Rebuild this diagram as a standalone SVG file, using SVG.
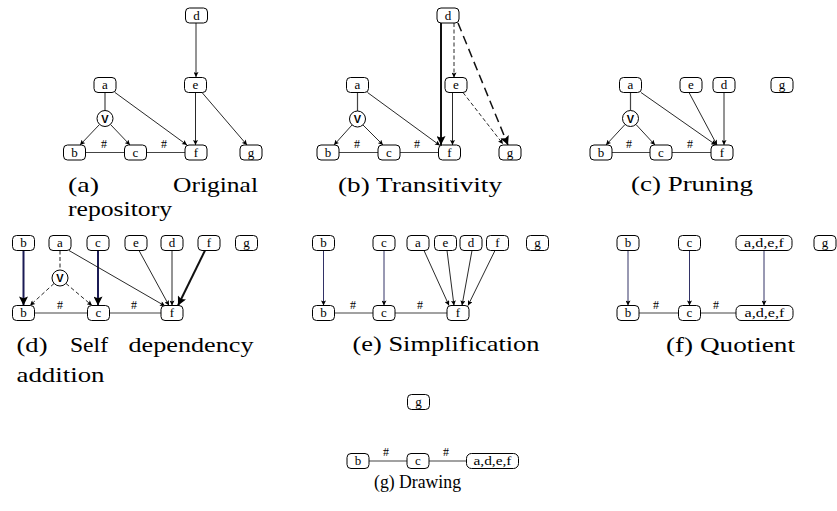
<svg xmlns="http://www.w3.org/2000/svg" width="837" height="511" viewBox="0 0 837 511">
  <defs>
    <style>
      .n rect { fill: #fff; stroke: #000; stroke-width: 1; }
      .n circle { fill: #fff; stroke: #000; stroke-width: 1; }
      .n text { font-family: "Liberation Serif", serif; font-size: 13px; text-anchor: middle; fill: #000; }
      .n text.or { font-family: "Liberation Sans", sans-serif; font-size: 11px; font-weight: bold; }
      .ln { stroke: #444; stroke-width: 1.2; fill: none; }
      .ar { stroke: #111; stroke-width: 0.9; fill: none; marker-end: url(#ah); }
      .dash { stroke-dasharray: 4 2.5; }
      .ldash { stroke-dasharray: 9 5; }
      .thick { stroke-width: 2; marker-end: url(#big); }
      .navy { stroke: #1b1b55; marker-end: url(#ahn); }
      .navy.thick { marker-end: url(#bign); }
      .hash { font-family: "Liberation Serif", serif; font-size: 12px; text-anchor: middle; fill: #000; }
      .cap { font-family: "Liberation Serif", serif; font-size: 22px; fill: #000; }
    </style>
    <marker id="ah" viewBox="0 0 10 10" refX="10" refY="5" markerWidth="6" markerHeight="5" markerUnits="userSpaceOnUse" orient="auto">
      <path d="M0,0 L10,5 L0,10 L2,5 z" fill="#000"/>
    </marker>
    <marker id="ahn" viewBox="0 0 10 10" refX="10" refY="5" markerWidth="6" markerHeight="5" markerUnits="userSpaceOnUse" orient="auto">
      <path d="M0,0 L10,5 L0,10 L2,5 z" fill="#000"/>
    </marker>
    <marker id="big" viewBox="0 0 10 10" refX="10" refY="5" markerWidth="11" markerHeight="9" markerUnits="userSpaceOnUse" orient="auto">
      <path d="M0,0 L10,5 L0,10 L2,5 z" fill="#000"/>
    </marker>
    <marker id="bign" viewBox="0 0 10 10" refX="10" refY="5" markerWidth="11" markerHeight="9" markerUnits="userSpaceOnUse" orient="auto">
      <path d="M0,0 L10,5 L0,10 L2,5 z" fill="#000"/>
    </marker>
  </defs>
  <rect width="837" height="511" fill="#fff"/>

  <!-- connectors -->
  <g id="connectors">
    <!-- (a) original repository -->
    <path class="ar" d="M196,23 L196,77"/>
    <path class="ln" d="M105,92.5 L105,110.5"/>
    <path class="ar" d="M99.5,124.5 L80,145"/>
    <path class="ar" d="M110.5,124.5 L130,145"/>
    <path class="ar" d="M115,92.5 L187,145"/>
    <path class="ar" d="M195.5,92.5 L195.5,145"/>
    <path class="ar" d="M202,92.5 L247,145"/>
    <path class="ln" d="M85.5,152.5 H124.5"/>
    <path class="ln" d="M146.5,152.5 H185"/>
    <text class="hash" x="104" y="148">#</text>
    <text class="hash" x="164" y="148">#</text>

    <!-- (b) transitivity -->
    <path class="ar thick" d="M441,23 L441,145"/>
    <path class="ar dash" d="M454,23 L454,77.5"/>
    <path class="ar thick ldash" d="M458,23 L508,145" style="stroke-width:1.5"/>
    <path class="ar" d="M452.5,92.5 L452.5,145"/>
    <path class="ar dash" d="M463,92.5 L503,144"/>
    <path class="ar" d="M367.5,92.5 L440,145.5"/>
    <path class="ln" d="M357.5,92.5 V111"/>
    <path class="ar" d="M352,125 L334,145"/>
    <path class="ar" d="M363,125 L383,145"/>
    <path class="ln" d="M339,152.5 H378"/>
    <path class="ln" d="M400,152.5 H438.5"/>
    <text class="hash" x="357" y="148">#</text>
    <text class="hash" x="417" y="148">#</text>

    <!-- (c) pruning -->
    <path class="ln" d="M630.5,92.5 V110.5"/>
    <path class="ar" d="M625,124.5 L606,145"/>
    <path class="ar" d="M636,124.5 L655,145"/>
    <path class="ar" d="M641,92.5 L716,145"/>
    <path class="ar" d="M689,92.5 L717,145"/>
    <path class="ar" d="M724,92.5 V145"/>
    <path class="ln" d="M612,152.5 H650"/>
    <path class="ln" d="M672,152.5 H711"/>
    <text class="hash" x="629" y="148">#</text>
    <text class="hash" x="690" y="148">#</text>

    <!-- (d) self dependency addition -->
    <path class="ar navy thick" d="M23.5,250.5 V305.5"/>
    <path class="ar navy thick" d="M98,250.5 V305.5"/>
    <path class="ln dash" d="M60,250.5 V270"/>
    <path class="ar dash" d="M54,283.5 L30,305.5"/>
    <path class="ar dash" d="M66,283.5 L92,305.5"/>
    <path class="ar" d="M69,250.5 L165,306"/>
    <path class="ar" d="M139,250.5 L169,305.5"/>
    <path class="ar" d="M172,250.5 V305.5"/>
    <path class="ar thick" d="M205,250.5 L178,305.5"/>
    <path class="ln" d="M34.5,313 H87.5"/>
    <path class="ln" d="M109.5,313 H161"/>
    <text class="hash" x="60" y="308.5">#</text>
    <text class="hash" x="134" y="308.5">#</text>

    <!-- (e) simplification -->
    <path class="ar navy" d="M323.5,250.5 V305.5"/>
    <path class="ar navy" d="M384,250.5 V305.5"/>
    <path class="ar" d="M424,250.5 L449,305.5"/>
    <path class="ar" d="M447,250.5 L454,305.5"/>
    <path class="ar" d="M472,250.5 L462,305.5"/>
    <path class="ar" d="M495,250.5 L468,305.5"/>
    <path class="ln" d="M334.5,313 H373"/>
    <path class="ln" d="M395,313 H447"/>
    <text class="hash" x="353" y="308.5">#</text>
    <text class="hash" x="420" y="308.5">#</text>

    <!-- (f) quotient -->
    <path class="ar navy" d="M628,250.5 V305.5"/>
    <path class="ar navy" d="M689.5,250.5 V305.5"/>
    <path class="ar navy" d="M764,250.5 V305.5"/>
    <path class="ln" d="M639,313 H678.5"/>
    <path class="ln" d="M700.5,313 H736"/>
    <text class="hash" x="656" y="308.5">#</text>
    <text class="hash" x="716" y="308.5">#</text>

    <!-- (g) drawing -->
    <path class="ln" d="M369,461 H407"/>
    <path class="ln" d="M429,461 H466.5"/>
    <text class="hash" x="386" y="456">#</text>
    <text class="hash" x="446" y="456">#</text>
  </g>

  <!-- (a) original repository -->
  <g id="fig-a">
    <g id="a-d" class="n"><rect x="185.5" y="8" width="22" height="15" rx="4"/><text x="196.5" y="19.5">d</text></g>
    <g id="a-e" class="n"><rect x="184.5" y="77.5" width="22" height="15" rx="4"/><text x="195.5" y="89">e</text></g>
    <g id="a-a" class="n"><rect x="94" y="77.5" width="22" height="15" rx="4"/><text x="105" y="89">a</text></g>
    <g id="a-v" class="n"><circle cx="105" cy="118.5" r="8"/><text class="or" x="105" y="122.5">V</text></g>
    <g id="a-b" class="n"><rect x="63.5" y="145" width="22" height="15" rx="4"/><text x="74.5" y="156.5">b</text></g>
    <g id="a-c" class="n"><rect x="124.5" y="145" width="22" height="15" rx="4"/><text x="135.5" y="156.5">c</text></g>
    <g id="a-f" class="n"><rect x="185" y="145" width="22" height="15" rx="4"/><text x="196" y="156.5">f</text></g>
    <g id="a-g" class="n"><rect x="240" y="145" width="22" height="15" rx="4"/><text x="251" y="156.5">g</text></g>
    <text class="cap" x="68" y="192" textLength="31" lengthAdjust="spacingAndGlyphs">(a)</text>
    <text class="cap" x="173" y="192" textLength="85" lengthAdjust="spacingAndGlyphs">Original</text>
    <text class="cap" x="68" y="216" textLength="104" lengthAdjust="spacingAndGlyphs">repository</text>
  </g>

  <!-- (b) transitivity -->
  <g id="fig-b">
    <g id="b-d" class="n"><rect x="437" y="8" width="22" height="15" rx="4"/><text x="448" y="19.5">d</text></g>
    <g id="b-e" class="n"><rect x="445" y="77.5" width="22" height="15" rx="4"/><text x="456" y="89">e</text></g>
    <g id="b-a" class="n"><rect x="346.5" y="77.5" width="22" height="15" rx="4"/><text x="357.5" y="89">a</text></g>
    <g id="b-v" class="n"><circle cx="357.5" cy="119" r="8"/><text class="or" x="357.5" y="123">V</text></g>
    <g id="b-b" class="n"><rect x="317" y="145" width="22" height="15" rx="4"/><text x="328" y="156.5">b</text></g>
    <g id="b-c" class="n"><rect x="378" y="145" width="22" height="15" rx="4"/><text x="389" y="156.5">c</text></g>
    <g id="b-f" class="n"><rect x="438.5" y="145" width="22" height="15" rx="4"/><text x="449.5" y="156.5">f</text></g>
    <g id="b-g" class="n"><rect x="499" y="145" width="22" height="15" rx="4"/><text x="510" y="156.5">g</text></g>
    <text class="cap" x="338" y="192" textLength="164" lengthAdjust="spacingAndGlyphs">(b) Transitivity</text>
  </g>

  <!-- (c) pruning -->
  <g id="fig-c">
    <g id="c-a" class="n"><rect x="619.5" y="77.5" width="22" height="15" rx="4"/><text x="630.5" y="89">a</text></g>
    <g id="c-e" class="n"><rect x="680" y="77.5" width="22" height="15" rx="4"/><text x="691" y="89">e</text></g>
    <g id="c-d" class="n"><rect x="713" y="77.5" width="22" height="15" rx="4"/><text x="724" y="89">d</text></g>
    <g id="c-g" class="n"><rect x="771" y="77.5" width="22" height="15" rx="4"/><text x="782" y="89">g</text></g>
    <g id="c-v" class="n"><circle cx="630.5" cy="118.5" r="8"/><text class="or" x="630.5" y="122.5">V</text></g>
    <g id="c-b" class="n"><rect x="590" y="145" width="22" height="15" rx="4"/><text x="601" y="156.5">b</text></g>
    <g id="c-c" class="n"><rect x="650" y="145" width="22" height="15" rx="4"/><text x="661" y="156.5">c</text></g>
    <g id="c-f" class="n"><rect x="711" y="145" width="22" height="15" rx="4"/><text x="722" y="156.5">f</text></g>
    <text class="cap" x="631" y="191" textLength="122" lengthAdjust="spacingAndGlyphs">(c) Pruning</text>
  </g>

  <!-- (d) self dependency addition -->
  <g id="fig-d">
    <g id="d-b1" class="n"><rect x="12.5" y="235.5" width="22" height="15" rx="4"/><text x="23.5" y="247">b</text></g>
    <g id="d-a" class="n"><rect x="49" y="235.5" width="22" height="15" rx="4"/><text x="60" y="247">a</text></g>
    <g id="d-c1" class="n"><rect x="87" y="235.5" width="22" height="15" rx="4"/><text x="98" y="247">c</text></g>
    <g id="d-e" class="n"><rect x="125" y="235.5" width="22" height="15" rx="4"/><text x="136" y="247">e</text></g>
    <g id="d-d" class="n"><rect x="161" y="235.5" width="22" height="15" rx="4"/><text x="172" y="247">d</text></g>
    <g id="d-f1" class="n"><rect x="198" y="235.5" width="22" height="15" rx="4"/><text x="209" y="247">f</text></g>
    <g id="d-g" class="n"><rect x="235.5" y="235.5" width="22" height="15" rx="4"/><text x="246.5" y="247">g</text></g>
    <g id="d-v" class="n"><circle cx="60" cy="278" r="8"/><text class="or" x="60" y="282">V</text></g>
    <g id="d-b2" class="n"><rect x="12.5" y="305.5" width="22" height="15" rx="4"/><text x="23.5" y="317">b</text></g>
    <g id="d-c2" class="n"><rect x="87.5" y="305.5" width="22" height="15" rx="4"/><text x="98.5" y="317">c</text></g>
    <g id="d-f2" class="n"><rect x="161" y="305.5" width="22" height="15" rx="4"/><text x="172" y="317">f</text></g>
    <text class="cap" x="16.5" y="351.5" textLength="31" lengthAdjust="spacingAndGlyphs">(d)</text>
    <text class="cap" x="70" y="351.5" textLength="38" lengthAdjust="spacingAndGlyphs">Self</text>
    <text class="cap" x="128.5" y="351.5" textLength="125" lengthAdjust="spacingAndGlyphs">dependency</text>
    <text class="cap" x="16.5" y="381.5" textLength="88" lengthAdjust="spacingAndGlyphs">addition</text>
  </g>

  <!-- (e) simplification -->
  <g id="fig-e">
    <g id="e-b1" class="n"><rect x="312.5" y="235.5" width="22" height="15" rx="4"/><text x="323.5" y="247">b</text></g>
    <g id="e-c1" class="n"><rect x="373" y="235.5" width="22" height="15" rx="4"/><text x="384" y="247">c</text></g>
    <g id="e-a" class="n"><rect x="407" y="235.5" width="22" height="15" rx="4"/><text x="418" y="247">a</text></g>
    <g id="e-e" class="n"><rect x="434.5" y="235.5" width="22" height="15" rx="4"/><text x="445.5" y="247">e</text></g>
    <g id="e-d" class="n"><rect x="460" y="235.5" width="22" height="15" rx="4"/><text x="471" y="247">d</text></g>
    <g id="e-f1" class="n"><rect x="486.5" y="235.5" width="22" height="15" rx="4"/><text x="497.5" y="247">f</text></g>
    <g id="e-g" class="n"><rect x="526.5" y="235.5" width="22" height="15" rx="4"/><text x="537.5" y="247">g</text></g>
    <g id="e-b2" class="n"><rect x="312.5" y="305.5" width="22" height="15" rx="4"/><text x="323.5" y="317">b</text></g>
    <g id="e-c2" class="n"><rect x="373" y="305.5" width="22" height="15" rx="4"/><text x="384" y="317">c</text></g>
    <g id="e-f2" class="n"><rect x="447" y="305.5" width="22" height="15" rx="4"/><text x="458" y="317">f</text></g>
    <text class="cap" x="352.5" y="351" textLength="187" lengthAdjust="spacingAndGlyphs">(e) Simplification</text>
  </g>

  <!-- (f) quotient -->
  <g id="fig-f">
    <g id="f-b1" class="n"><rect x="617" y="235.5" width="22" height="15" rx="4"/><text x="628" y="247">b</text></g>
    <g id="f-c1" class="n"><rect x="678.5" y="235.5" width="22" height="15" rx="4"/><text x="689.5" y="247">c</text></g>
    <g id="f-adef1" class="n"><rect x="736" y="235.5" width="56" height="15" rx="5"/><text x="764" y="247" textLength="40" lengthAdjust="spacingAndGlyphs">a,d,e,f</text></g>
    <g id="f-g" class="n"><rect x="814" y="235.5" width="22" height="15" rx="4"/><text x="825" y="247">g</text></g>
    <g id="f-b2" class="n"><rect x="617" y="305.5" width="22" height="15" rx="4"/><text x="628" y="317">b</text></g>
    <g id="f-c2" class="n"><rect x="678.5" y="305.5" width="22" height="15" rx="4"/><text x="689.5" y="317">c</text></g>
    <g id="f-adef2" class="n"><rect x="736" y="305.5" width="57" height="15" rx="5"/><text x="764.5" y="317" textLength="40" lengthAdjust="spacingAndGlyphs">a,d,e,f</text></g>
    <text class="cap" x="666" y="351.5" textLength="129" lengthAdjust="spacingAndGlyphs">(f) Quotient</text>
  </g>

  <!-- (g) drawing -->
  <g id="fig-g">
    <g id="g-g" class="n"><rect x="407.5" y="394.5" width="22" height="15" rx="4"/><text x="418.5" y="406">g</text></g>
    <g id="g-b" class="n"><rect x="347" y="453.5" width="22" height="15" rx="4"/><text x="358" y="465">b</text></g>
    <g id="g-c" class="n"><rect x="407" y="453.5" width="22" height="15" rx="4"/><text x="418" y="465">c</text></g>
    <g id="g-adef" class="n"><rect x="466.5" y="453.5" width="52" height="15" rx="5"/><text x="492.5" y="465" textLength="38" lengthAdjust="spacingAndGlyphs">a,d,e,f</text></g>
    <text class="cap" x="374" y="488" textLength="87" lengthAdjust="spacingAndGlyphs" style="font-size:18px">(g) Drawing</text>
  </g>
</svg>
